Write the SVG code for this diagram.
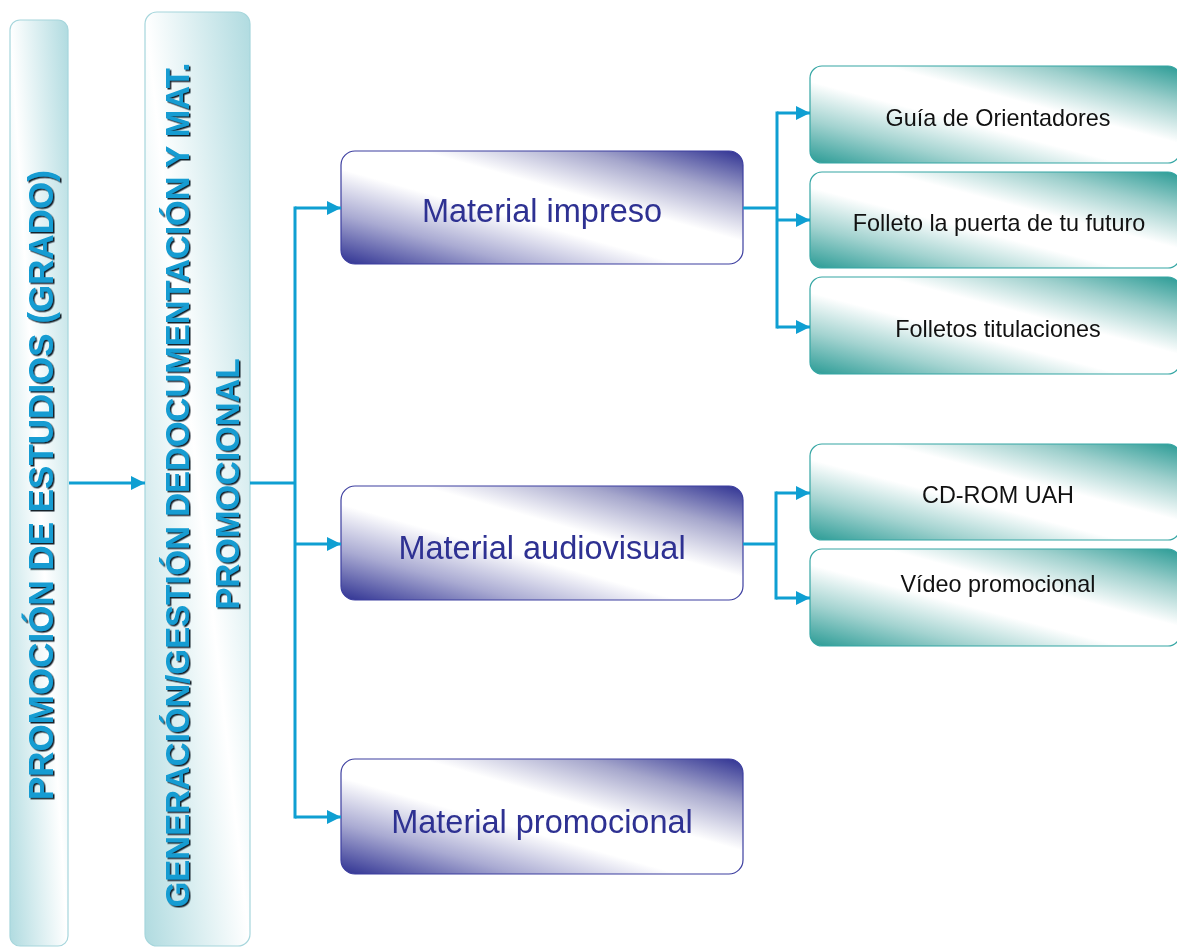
<svg xmlns="http://www.w3.org/2000/svg" width="1177" height="947" viewBox="0 0 1177 947">
<style>
.bar{stroke:#a6d6dc;stroke-width:1.2;fill:url(#gBar)}
.barTxt{font-family:"Liberation Sans",Arial,sans-serif;font-weight:bold;fill:#129cd2;text-anchor:middle}
.mat{fill:url(#gPur);stroke:#3d3fa0;stroke-width:1.2}
.matTxt{font-family:"Liberation Sans",Arial,sans-serif;font-size:32.5px;fill:#2e3192;text-anchor:middle}
.leaf{fill:url(#gTeal);stroke:#35a6a4;stroke-width:1.2}
.leafTxt{font-family:"Liberation Sans",Arial,sans-serif;font-size:23.4px;fill:#111;text-anchor:middle}
.con{fill:none;stroke:#0f9fd2;stroke-width:3}
</style>
<defs>
<linearGradient id="gBar" x1="0" y1="1" x2="1" y2="0">
<stop offset="0" stop-color="#b0dbe0"/>
<stop offset="0.5" stop-color="#ffffff"/>
<stop offset="1" stop-color="#b0dbe0"/>
</linearGradient>
<linearGradient id="gPur" x1="0" y1="1" x2="1" y2="0">
<stop offset="0" stop-color="#2e3192"/>
<stop offset="0.22" stop-color="#a9aad2"/>
<stop offset="0.42" stop-color="#ffffff"/>
<stop offset="0.6" stop-color="#ffffff"/>
<stop offset="0.8" stop-color="#a6a7cc"/>
<stop offset="1" stop-color="#2e3192"/>
</linearGradient>
<linearGradient id="gTeal" x1="0" y1="1" x2="1" y2="0">
<stop offset="0" stop-color="#2a9b95"/>
<stop offset="0.22" stop-color="#a3d3d0"/>
<stop offset="0.42" stop-color="#ffffff"/>
<stop offset="0.6" stop-color="#ffffff"/>
<stop offset="0.8" stop-color="#9fd0cd"/>
<stop offset="1" stop-color="#2a9b95"/>
</linearGradient>
<filter id="shadow" x="-10%" y="-10%" width="120%" height="120%">
<feDropShadow dx="1.5" dy="1.5" stdDeviation="0.3" flood-color="#17242c" flood-opacity="1"/>
</filter>
<marker id="arr" markerUnits="userSpaceOnUse" markerWidth="16" markerHeight="16" refX="14" refY="7" orient="auto">
<path d="M0,0 L14,7 L0,14 z" fill="#0f9fd2"/>
</marker>
</defs>

<g id="promocion">
<rect class="bar" x="10" y="20" width="58" height="926" rx="10"/>
<g filter="url(#shadow)">
<text class="barTxt" font-size="35" transform="translate(53,485) rotate(-90)">PROMOCIÓN DE ESTUDIOS (GRADO)</text>
</g>
</g>

<g id="generacion">
<rect class="bar" x="145" y="12" width="105" height="934" rx="12"/>
<g filter="url(#shadow)">
<text class="barTxt" font-size="33" transform="translate(189,485) rotate(-90)">GENERACIÓN/GESTIÓN DEDOCUMENTACIÓN Y MAT.</text>
<text class="barTxt" font-size="33" transform="translate(239,484) rotate(-90)">PROMOCIONAL</text>
</g>
</g>

<g id="impreso">
<rect class="mat" x="341" y="151" width="402" height="113" rx="14"/>
<text class="matTxt" x="542" y="222">Material impreso</text>
</g>
<g id="audiovisual">
<rect class="mat" x="341" y="486" width="402" height="114" rx="14"/>
<text class="matTxt" x="542" y="559">Material audiovisual</text>
</g>
<g id="promocional">
<rect class="mat" x="341" y="759" width="402" height="115" rx="14"/>
<text class="matTxt" x="542" y="833">Material promocional</text>
</g>

<g id="guia">
<rect class="leaf" x="810" y="66" width="370" height="97" rx="12"/>
<text class="leafTxt" x="998" y="126">Guía de Orientadores</text>
</g>
<g id="folleto">
<rect class="leaf" x="810" y="172" width="370" height="96" rx="12"/>
<text class="leafTxt" x="999" y="231">Folleto la puerta de tu futuro</text>
</g>
<g id="folletos">
<rect class="leaf" x="810" y="277" width="370" height="97" rx="12"/>
<text class="leafTxt" x="998" y="337">Folletos titulaciones</text>
</g>
<g id="cdrom">
<rect class="leaf" x="810" y="444" width="370" height="96" rx="12"/>
<text class="leafTxt" x="998" y="503">CD-ROM UAH</text>
</g>
<g id="video">
<rect class="leaf" x="810" y="549" width="370" height="97" rx="12"/>
<text class="leafTxt" x="998" y="592">Vídeo promocional</text>
</g>

<g id="connectors">
<line class="con" x1="69" y1="483" x2="145" y2="483" marker-end="url(#arr)"/>
<path class="con" d="M250,483 H295"/>
<path class="con" d="M295,206.5 V818.5"/>
<line class="con" x1="295" y1="208" x2="341" y2="208" marker-end="url(#arr)"/>
<line class="con" x1="295" y1="544" x2="341" y2="544" marker-end="url(#arr)"/>
<line class="con" x1="295" y1="817" x2="341" y2="817" marker-end="url(#arr)"/>
<path class="con" d="M743,208 H777"/>
<path class="con" d="M777,111.5 V328.5"/>
<line class="con" x1="777" y1="113" x2="810" y2="113" marker-end="url(#arr)"/>
<line class="con" x1="777" y1="220" x2="810" y2="220" marker-end="url(#arr)"/>
<line class="con" x1="777" y1="327" x2="810" y2="327" marker-end="url(#arr)"/>
<path class="con" d="M743,544 H776"/>
<path class="con" d="M776,491.5 V599.5"/>
<line class="con" x1="776" y1="493" x2="810" y2="493" marker-end="url(#arr)"/>
<line class="con" x1="776" y1="598" x2="810" y2="598" marker-end="url(#arr)"/>
</g>
</svg>
